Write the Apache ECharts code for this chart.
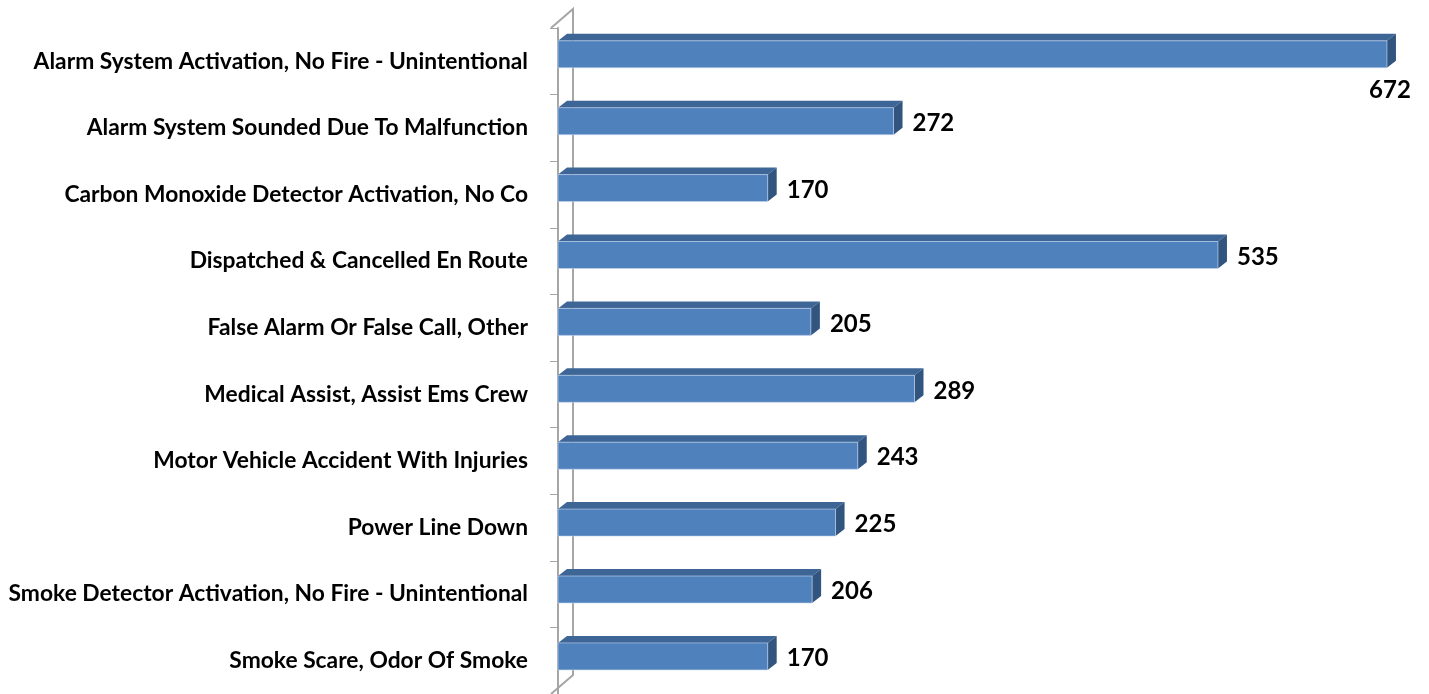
<!DOCTYPE html>
<html>
<head>
<meta charset="utf-8">
<script src="https://cdn.jsdelivr.net/npm/echarts@6/dist/echarts.min.js"></script>
<style>
  html, body { margin: 0; padding: 0; background: #fff; }
  #main { width: 1429px; height: 694px; }
</style>
</head>
<body>
<div id="main"></div>
<script>
// categories top to bottom
const categories = [
    'Alarm System Activation, No Fire - Unintentional',
    'Alarm System Sounded Due To Malfunction',
    'Carbon Monoxide Detector Activation, No Co',
    'Dispatched & Cancelled En Route',
    'False Alarm Or False Call, Other',
    'Medical Assist, Assist Ems Crew',
    'Motor Vehicle Accident With Injuries',
    'Power Line Down',
    'Smoke Detector Activation, No Fire - Unintentional',
    'Smoke Scare, Odor Of Smoke'
]
const counts = [672, 272, 170, 535, 205, 289, 243, 225, 206, 170]

// 3d look
const DEPTH_X = 9
const DEPTH_Y = -7
const FRONT_H = 27
const FRONT_COLOR = '#4f81bd'
const TOP_COLOR = '#3d6697'
const SIDE_COLOR = '#31557f'
const WALL_COLOR = '#a6a6a6'

const chart = echarts.init(document.getElementById('main'))

const renderBar = (params, api) => {
    const i = api.value(0)
    const v = api.value(1)
    const start = api.coord([0, i])
    const end = api.coord([v, i])
    const band = api.size([0, 1])[1]
    const x0 = start[0]
    const x1 = end[0]
    // slight perspective drift down the chart
    const drift = 0.3 * i
    const ft = end[1] - 20.5 + drift
    const fb = ft + FRONT_H
    const children = []

    if (params.dataIndex === 0) {
        // back wall + the two diagonals
        const wx = x0 - 7
        const top = start[1] - band / 2
        const bottom = top + band * categories.length
        children.push({
            type: 'polyline',
            shape: { points: [[wx, top], [wx + 22, top - 19], [wx + 22, bottom - 19], [wx, bottom]] },
            style: { stroke: WALL_COLOR, lineWidth: 2, fill: null }
        })
    }

    children.push({
        type: 'polygon',
        shape: { points: [[x0, ft], [x0 + DEPTH_X, ft + DEPTH_Y], [x1 + DEPTH_X, ft + DEPTH_Y], [x1, ft]] },
        style: { fill: TOP_COLOR }
    })
    children.push({
        type: 'polygon',
        shape: { points: [[x1, ft], [x1 + DEPTH_X, ft + DEPTH_Y], [x1 + DEPTH_X, fb + DEPTH_Y], [x1, fb]] },
        style: { fill: SIDE_COLOR }
    })
    children.push({
        type: 'rect',
        shape: { x: x0, y: ft, width: x1 - x0, height: FRONT_H },
        style: { fill: FRONT_COLOR, stroke: 'rgba(200,215,240,0.6)', lineWidth: 1 }
    })

    // value label: to the right, or below the bar end when it does not fit
    const fits = x1 + 19 + 45 < api.getWidth()
    children.push({
        type: 'text',
        style: {
            text: String(v),
            x: fits ? x1 + 19 : x1 + 3,
            y: fits ? end[1] - 5 + drift : fb + 22,
            textAlign: fits ? 'left' : 'center',
            textVerticalAlign: 'middle',
            font: 'bold 24px Lato',
            fill: '#000'
        }
    })
    return { type: 'group', children }
}

const option = {
    animation: false,
    grid: { left: 558, top: 28, right: 7.5, height: 668 },
    xAxis: { type: 'value', min: 0, max: 700, show: false },
    yAxis: {
        type: 'category',
        data: categories,
        inverse: true,
        offset: 7,
        axisLine: { lineStyle: { color: WALL_COLOR, width: 2 } },
        axisTick: { show: true, length: 8, inside: false, lineStyle: { color: WALL_COLOR, width: 1 } },
        axisLabel: { margin: 23, color: '#000', fontWeight: 'bold', fontSize: 22.8, fontFamily: 'Lato' },
        splitLine: { show: false }
    },
    series: [{
        type: 'custom',
        renderItem: renderBar,
        clip: false,
        encode: { x: 1, y: 0 },
        data: counts.map((c, i) => [i, c])
    }]
}
chart.setOption(option)
</script>
</body>
</html>
